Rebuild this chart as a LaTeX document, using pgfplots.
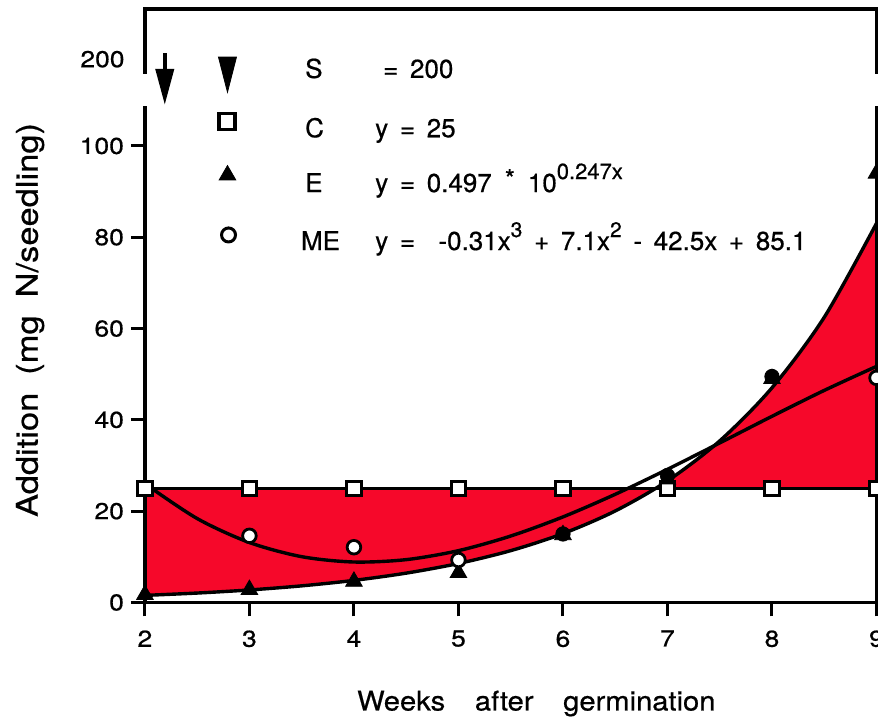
\documentclass[border=0pt]{standalone}
\usepackage{fontspec}
\setmainfont{TeX Gyre Heros}[FakeBold=0.6]
\newfontfamily\wide{TeX Gyre Heros}[FakeStretch=1.15, FakeBold=0.6]
\newfontfamily\wider{TeX Gyre Heros}[FakeStretch=1.15, FakeBold=0.6]
\newfontfamily\xwide{TeX Gyre Heros}[FakeStretch=1.08, FakeBold=0.6]
\usepackage{pgfplots}
\pgfplotsset{compat=1.18}
\usepgfplotslibrary{fillbetween}
\usetikzlibrary{arrows.meta}
\definecolor{fillred}{RGB}{246,8,42}
\begin{document}
\begin{tikzpicture}
\begin{axis}[
  set layers,
  scale only axis, width=366bp, height=296.9bp,
  xmin=2, xmax=9, ymin=0, ymax=130,
  xtick={2,3,4,5,6,7,8,9}, ytick={0,20,40,60,80,100},
  tick pos=left, tick align=outside,
  major tick length=7bp,
  tick style={line width=1.5bp, black},
  separate axis lines,
  x axis line style={line width=1.6bp},
  y axis line style={draw=none},
  clip=false,
  /pgf/number format/assume math mode=true,
  ticklabel style={font=\wide\fontsize{11.5bp}{13bp}\selectfont},
  xticklabel style={yshift=-3.5bp},
  xlabel={Weeks\hspace{1.1em}after\hspace{1.1em}germination},
  ylabel={Addition\hspace{0.6em}(mg\hspace{0.6em}N/seedling)},
  xlabel style={at={(axis description cs:0.535,-0.182)}, anchor=base, font=\xwide\fontsize{13.5bp}{15bp}\selectfont},
  ylabel style={at={(axis description cs:-0.157,0.476)}, anchor=center, font=\wider\fontsize{15bp}{17bp}\selectfont},
]
% C squares
\addplot[only marks, mark=square*, mark size=3.6bp, mark options={fill=white, draw=black, line width=1.4bp}, forget plot]
  coordinates {(2,25)(3,25)(4,25)(5,25)(6,25)(7,25)(8,25)(9,25)};
% C line
\addplot[name path=C, black, line width=1.7bp, forget plot] coordinates {(2,25)(9,25)};
% E curve
\addplot[name path=E, black, line width=1.7bp, smooth, forget plot] coordinates {
(2,1.550)(2.5,2.060)(3,2.737)(3.5,3.638)(4,4.834)(4.5,6.426)(5,8.538)(5.5,11.35)
(6,15.08)(6.5,20.04)(7,26.63)(7.5,35.39)(8,47.03)(8.5,62.47)(9,83.05)};
% ME curve
\addplot[black, line width=1.7bp, smooth, forget plot] coordinates {
(2,26.02)(2.5,18.38)(3,13.13)(3.5,10.03)(4,8.86)(4.5,9.38)(5,11.35)(5.5,14.55)
(6,18.74)(6.5,23.69)(7,29.17)(7.5,34.94)(8,40.78)(8.5,46.45)(9,51.71)};
% fill between E and C
\addplot[fillred, on layer=axis background, forget plot] fill between[of=E and C];
% E triangles
\addplot[only marks, mark=triangle*, mark size=4.8bp, mark options={fill=black, draw=black}, forget plot]
  coordinates {(2,1.7)(3,2.8)(4,4.6)(5,6.5)(6,14.8)(7,27)(8,49)(9,94)};
% ME open circles
\addplot[only marks, mark=*, mark size=3.4bp, mark options={fill=white, draw=black, line width=1.4bp}, forget plot]
  coordinates {(3,14.6)(4,12.1)(5,9.3)(9,49.2)};
% ME filled circles (overlapping)
\addplot[only marks, mark=*, mark size=3.6bp, mark options={fill=black, draw=black}, forget plot]
  coordinates {(6,15)(7,27.8)(8,49.5)};
% legend markers
\addplot[only marks, mark=triangle*, mark size=5.2bp, mark options={yscale=-2.25, fill=black, draw=black}, forget plot]
  coordinates {(2.79,116.9)};
\addplot[only marks, mark=square*, mark size=4bp, mark options={fill=white, draw=black, line width=1.6bp}, forget plot]
  coordinates {(2.785,105.3)};
\addplot[only marks, mark=triangle*, mark size=4.8bp, mark options={fill=black, draw=black}, forget plot]
  coordinates {(2.79,93.6)};
\addplot[only marks, mark=*, mark size=3.5bp, mark options={fill=white, draw=black, line width=1.5bp}, forget plot]
  coordinates {(2.80,80.5)};
% frame verticals with break
\draw[line width=1.6bp, line cap=rect] (axis cs:2,0) -- (axis cs:2,108.5);
\draw[line width=1.6bp, line cap=rect] (axis cs:2,116) -- (axis cs:2,130);
\draw[line width=1.6bp, line cap=rect] (axis cs:9,0) -- (axis cs:9,108.5);
\draw[line width=1.6bp, line cap=rect] (axis cs:9,116) -- (axis cs:9,130);
% 200 label
\node[anchor=east, inner sep=0, font=\wide\fontsize{11.5bp}{13bp}\selectfont] at ([xshift=-10bp]axis cs:2,119) {200};
% arrow
\draw[line width=2bp, -{Triangle[length=18bp,width=9bp]}] (axis cs:2.19,120.3) -- (axis cs:2.19,109);
% legend text
\begin{scope}[every node/.style={anchor=base west, inner sep=0, font=\fontsize{13bp}{15bp}\selectfont}]
\node at (axis cs:3.53,114.9) {S};
\node at (axis cs:4.276,114.9) {=\hspace{0.45em}200};
\node at (axis cs:3.53,101.9) {C};
\node at (axis cs:4.20,101.9) {y\hspace{0.45em}=\hspace{0.45em}25};
\node at (axis cs:3.53,89.9) {E};
\node at (axis cs:4.20,89.9) {y\hspace{0.45em}=\hspace{0.45em}0.497\hspace{0.5em}\raisebox{2bp}{*}\hspace{0.5em}10\raisebox{6.5bp}{\fontsize{11bp}{13bp}\selectfont 0.247x}};
\node at (axis cs:3.49,77.2) {ME};
\node at (axis cs:4.20,77.2) {y\hspace{0.45em}=\hspace{0.9em}-0.31x\raisebox{6.5bp}{\fontsize{10.5bp}{12bp}\selectfont 3}\hspace{0.45em}+\hspace{0.45em}7.1x\raisebox{6.5bp}{\fontsize{10.5bp}{12bp}\selectfont 2}\hspace{0.45em}-\hspace{0.45em}42.5x\hspace{0.45em}+\hspace{0.45em}85.1};
\end{scope}
\coordinate (LL) at (axis cs:2,0);
\coordinate (UR) at (axis cs:9,130);
\end{axis}
\pgfresetboundingbox
\path ([xshift=-72.5bp,yshift=-57.15bp]LL) rectangle ([xshift=0.75bp,yshift=4.5bp]UR);
\end{tikzpicture}
\end{document}
